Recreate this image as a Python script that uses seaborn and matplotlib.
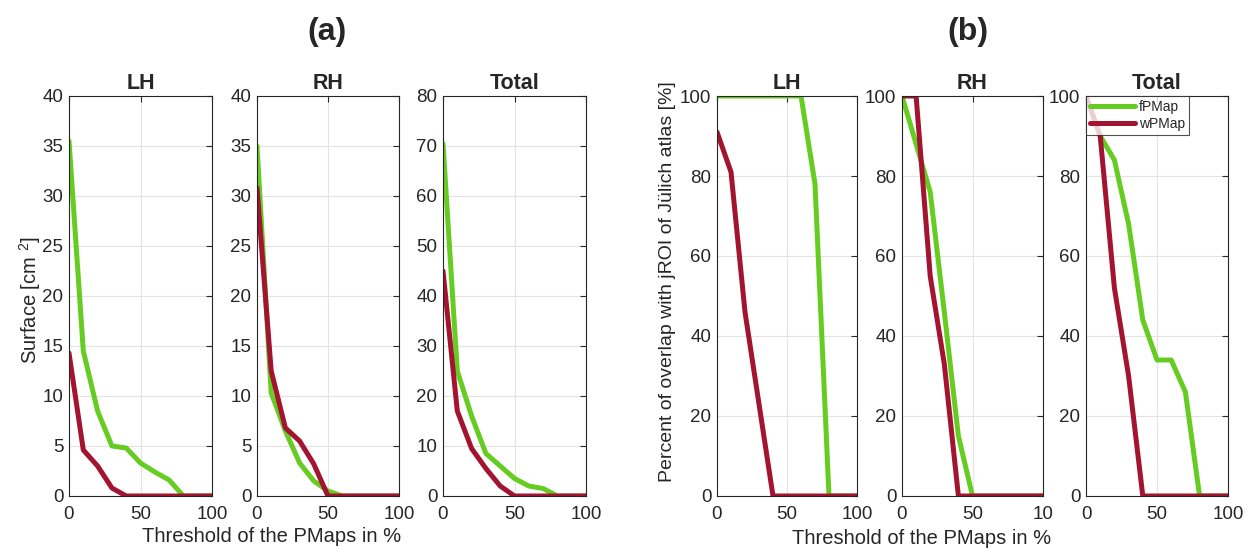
import pandas as pd
import matplotlib
matplotlib.use("Agg")
import matplotlib.pyplot as plt
import seaborn as sns

# thresholds of the PMaps in %
thresholds = [0, 10, 20, 30, 40, 50, 60, 70, 80, 90, 100]

# (a) surface in cm^2
surf_lh_f = [35.5, 14.5, 8.5, 5.0, 4.8, 3.3, 2.4, 1.6, 0, 0, 0]
surf_lh_w = [14.3, 4.6, 3.0, 0.8, 0, 0, 0, 0, 0, 0, 0]
surf_rh_f = [35.0, 10.3, 6.5, 3.3, 1.5, 0.5, 0, 0, 0, 0, 0]
surf_rh_w = [30.8, 12.5, 6.8, 5.5, 3.2, 0, 0, 0, 0, 0, 0]
surf_tot_f = [70.5, 25.0, 16.0, 8.5, 6.0, 3.5, 2.0, 1.5, 0, 0, 0]
surf_tot_w = [45.0, 17.0, 9.5, 5.5, 2.0, 0, 0, 0, 0, 0, 0]

# (b) percent of overlap with jROI of Juelich atlas
ovl_lh_f = [100, 100, 100, 100, 100, 100, 100, 78, 0, 0, 0]
ovl_lh_w = [91, 81, 46, 23, 0, 0, 0, 0, 0, 0, 0]
ovl_rh_f = [100, 88, 76, 46, 15, 0, 0, 0, 0, 0, 0]
ovl_rh_w = [100, 100, 55, 33, 0, 0, 0, 0, 0, 0, 0]
ovl_tot_f = [100, 90, 84, 68, 44, 34, 34, 26, 0, 0, 0]
ovl_tot_w = [100, 90, 52, 30, 0, 0, 0, 0, 0, 0, 0]

methods = ["fPMap", "wPMap"]
colors = {"fPMap": "#66cc22", "wPMap": "#a2142f"}
x_ticklabels = ["0", "50", "100"]
x_ticklabels_cut = ["0", "50", "10"]  # the reference shows the last label cut


def make_df(f_vals, w_vals):
    rows = []
    for name, vals in zip(methods, [f_vals, w_vals]):
        for t, v in zip(thresholds, vals):
            rows.append({"threshold": t, "value": v, "method": name})
    return pd.DataFrame(rows)


sns.set_style("white")
plt.rcParams['font.family'] = ['Liberation Sans', 'DejaVu Sans']
plt.rcParams['mathtext.fontset'] = 'custom'
plt.rcParams['mathtext.rm'] = 'Liberation Sans'

W, H = 1253, 549
fig = plt.figure(figsize=(W / 100, H / 100), dpi=100)

# (left px, width px, title, f, w, ymax, ystep, xticklabels)
panels = [
    (69, 143, "LH", surf_lh_f, surf_lh_w, 40, 5, x_ticklabels),
    (257, 142, "RH", surf_rh_f, surf_rh_w, 40, 5, x_ticklabels),
    (443, 143, "Total", surf_tot_f, surf_tot_w, 80, 10, x_ticklabels),
    (717, 140, "LH", ovl_lh_f, ovl_lh_w, 100, 20, x_ticklabels),
    (902, 141, "RH", ovl_rh_f, ovl_rh_w, 100, 20, x_ticklabels_cut),
    (1086, 142, "Total", ovl_tot_f, ovl_tot_w, 100, 20, x_ticklabels),
]

top_px, bot_px = 96, 496
axes = []
for i, (left, width, title, f_vals, w_vals, ymax, ystep, xtl) in enumerate(panels):
    ax = fig.add_axes([left / W, (H - bot_px) / H, width / W, (bot_px - top_px) / H])
    df = make_df(f_vals, w_vals)
    sns.lineplot(data=df, x="threshold", y="value", hue="method",
                 palette=colors, linewidth=3.6, ax=ax, legend=(i == 5))
    ax.set_xlim(0, 100)
    ax.set_ylim(0, ymax)
    ax.set_xticks([0, 50, 100])
    ax.set_xticklabels(xtl)
    ax.set_yticks(list(range(0, ymax + 1, ystep)))
    ax.grid(True, color="#e3e3e3", linewidth=0.8)
    ax.set_axisbelow(True)
    for sp in ax.spines.values():
        sp.set_color("#262626")
        sp.set_linewidth(0.8)
    ax.tick_params(direction="in", length=4, width=0.8, colors="#262626",
                   labelsize=13.5, top=True, right=True)
    ax.tick_params(axis="x", pad=7)
    ax.tick_params(axis="y", pad=4)
    ax.set_title(title, fontsize=15.5, fontweight="bold", pad=5)
    ax.set_xlabel("")
    ax.set_ylabel("")
    axes.append(ax)

axes[0].set_ylabel("Surface [cm $^{2}$]", fontsize=14.5)
axes[0].yaxis.set_label_coords(-0.18, 0.49)
axes[3].set_ylabel("Percent of overlap with jROI of Jülich atlas [%]", fontsize=14)
axes[3].yaxis.set_label_coords(-0.295, 0.535)

leg = axes[5].legend(loc="upper left", fontsize=10, frameon=True, fancybox=False,
                     borderaxespad=0.0, handlelength=3.2, borderpad=0.3,
                     labelspacing=0.2, handletextpad=0.3)
leg.get_frame().set_edgecolor("#262626")
leg.get_frame().set_linewidth(0.8)
for line in leg.get_lines():
    line.set_linewidth(3.6)

fig.text(327 / W, 1 - 32 / H, "(a)", fontsize=23, fontweight="bold", ha="center", va="center")
fig.text(968 / W, 1 - 32 / H, "(b)", fontsize=23, fontweight="bold", ha="center", va="center")
fig.text(272 / W, 1 - 537 / H, "Threshold of the PMaps in %", fontsize=14.5, ha="center", va="center")
fig.text(922 / W, 1 - 538 / H, "Threshold of the PMaps in %", fontsize=14.5, ha="center", va="center")

fig.savefig("out.png", dpi=100, facecolor="white")
